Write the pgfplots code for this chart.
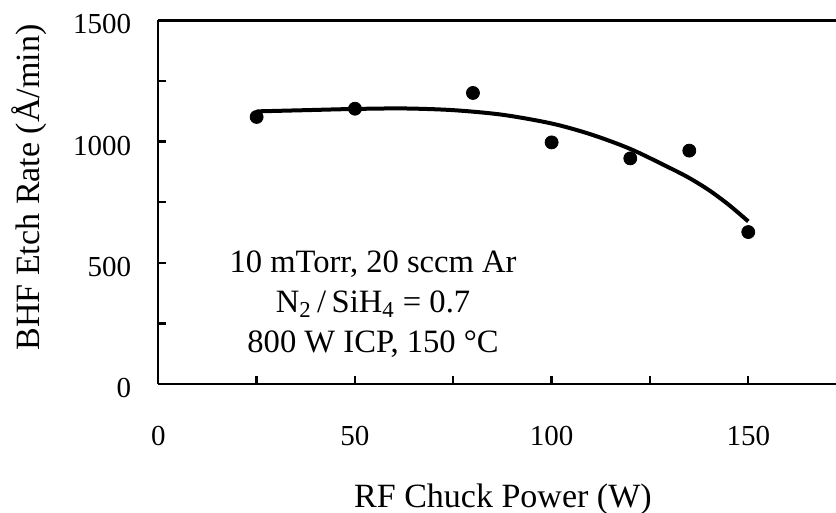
\documentclass[border=0pt]{standalone}
\usepackage{fontspec}
\setmainfont{Liberation Serif}
\usepackage{pgfplots}
\pgfplotsset{compat=1.18}
\usetikzlibrary{calc}

% measured points
\pgfplotstableread{
x y
25 1102
50 1136
80 1201
100 997
120 931
135 963
150 627
}\etchdata

\begin{document}
\begin{tikzpicture}
\begin{axis}[
  name=ax,
  scale only axis,
  width=338.85pt, height=181.75pt,
  xmin=0, xmax=172.3, ymin=0, ymax=1500,
  axis x line*=box, axis y line*=left,
  axis line style={-, line width=1.2pt, black},
  xtick={0,50,100,150}, minor xtick={25,75,125},
  ytick={0,500,1000,1500}, minor ytick={250,750,1250},
  xtick pos=bottom, ytick pos=left,
  tick align=inside,
  major tick length=4pt, minor tick length=4pt,
  every tick/.style={black, line width=1.2pt},
  /pgf/number format/assume math mode=true,
  /pgf/number format/1000 sep={},
  tick label style={font=\fontsize{14.5}{17}\selectfont},
  xticklabel style={anchor=center, yshift=-26.25pt},
  yticklabel style={anchor=east, xshift=-10.1pt, yshift=-2pt},
  every axis x label/.style={at={(axis description cs:0.5086,0)}, anchor=base, yshift=-62pt},
  every axis y label/.style={at={(axis description cs:0,0.5406)}, rotate=90, anchor=base, yshift=59.4pt},
  label style={font=\fontsize{17}{20}\selectfont},
  xlabel={RF Chuck Power (W)},
  ylabel={BHF Etch Rate (Å/min)},
  clip=false,
]
\addplot[black, line width=2pt, smooth, no marks] coordinates {
  (25,1125) (37.5,1130) (50,1135) (62.5,1137) (75,1130) (87.5,1111)
  (100,1075) (110,1030) (120,970) (130,892) (135,850) (140,800)
  (145,740) (150,671)
};
\addplot[only marks, mark=*, mark size=3.25pt, black] table[x=x, y=y] {\etchdata};
\node[align=center, font=\fontsize{16.3}{20}\selectfont] at (axis cs:54.6,331)
  {10 mTorr, 20 sccm Ar\\N\textsubscript{2}\,/\,SiH\textsubscript{4} = 0.7\\800 W ICP, 150 °C};
\end{axis}
\pgfresetboundingbox
\path[use as bounding box] ($(ax.south west)+(-79.15pt,-64.5pt)$) rectangle ($(ax.south west)+(338.85pt,192pt)$);
\end{tikzpicture}
\end{document}
